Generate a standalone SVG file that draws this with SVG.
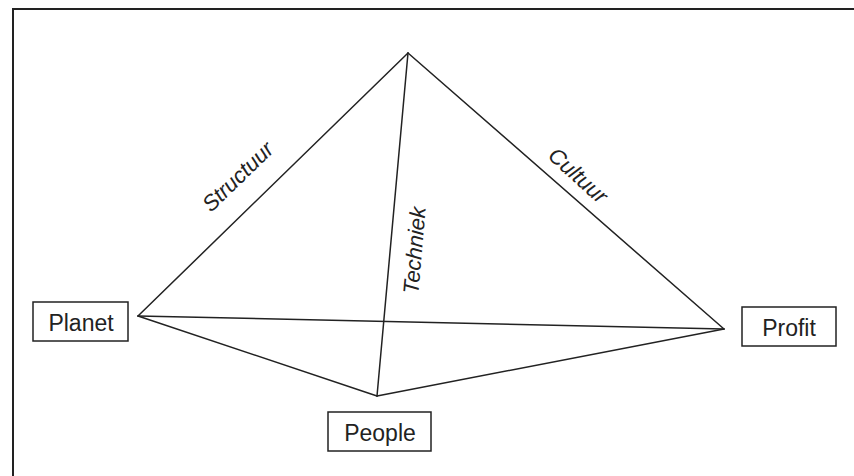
<svg xmlns="http://www.w3.org/2000/svg" width="854" height="476" viewBox="0 0 854 476">
<style>
.edge{stroke:#222;stroke-width:1.5;fill:none;stroke-linecap:round}
.box{fill:#fff;stroke:#222;stroke-width:1.5}
.lbl{font-family:"Liberation Sans",Arial,sans-serif;font-size:23px;fill:#222;text-anchor:middle}
.el{font-family:"Liberation Sans",Arial,sans-serif;font-size:22px;font-style:italic;fill:#222;text-anchor:middle}
</style>
<rect x="0" y="0" width="854" height="476" fill="#fff"/>
<path d="M13 480 V9 H860" stroke="#222" stroke-width="2" fill="none"/>
<g id="connectors">
<line class="edge" x1="408" y1="53" x2="138" y2="316"/>
<line class="edge" x1="408" y1="53" x2="724" y2="329"/>
<line class="edge" x1="408" y1="53" x2="377" y2="396"/>
<line class="edge" x1="138" y1="316" x2="724" y2="329"/>
<line class="edge" x1="138" y1="316" x2="377" y2="396"/>
<line class="edge" x1="377" y1="396" x2="724" y2="329"/>
<text class="el" transform="translate(243,182) rotate(-44)">Structuur</text>
<text class="el" transform="translate(422,251) rotate(-85)">Techniek</text>
<text class="el" transform="translate(573,181) rotate(42)">Cultuur</text>
</g>
<g id="planet">
<rect class="box" x="33" y="302" width="95" height="39"/>
<text class="lbl" x="81" y="331">Planet</text>
</g>
<g id="profit">
<rect class="box" x="742" y="307" width="94" height="39"/>
<text class="lbl" x="789" y="336">Profit</text>
</g>
<g id="people">
<rect class="box" x="328" y="412" width="103" height="39"/>
<text class="lbl" x="380" y="441">People</text>
</g>
</svg>
